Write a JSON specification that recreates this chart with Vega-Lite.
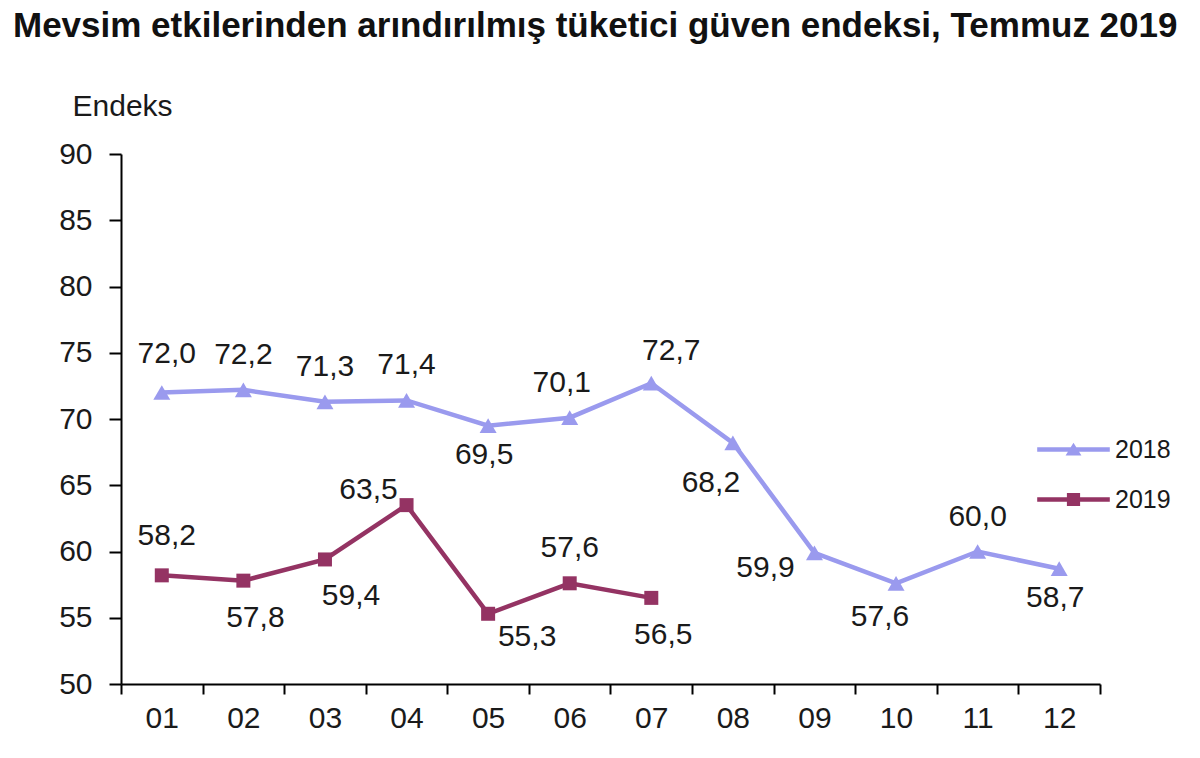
{
  "$schema": "https://vega.github.io/schema/vega-lite/v6.json",
  "width": 979,
  "height": 530,
  "autosize": {"type": "none"},
  "padding": {"left": 121, "top": 154, "right": 100, "bottom": 74},
  "background": "white",
  "title": {
    "text": "Mevsim etkilerinden arındırılmış tüketici güven endeksi, Temmuz 2019",
    "anchor": "start",
    "frame": "group",
    "dx": -108,
    "offset": 19,
    "baseline": "alphabetic",
    "font": "Liberation Sans",
    "fontSize": 35,
    "fontWeight": "bold",
    "color": "#111111"
  },
  "config": {
    "view": {"stroke": null},
    "font": "Liberation Sans",
    "locale": {
      "number": {"decimal": ",", "thousands": ".", "grouping": [3], "currency": ["", ""]}
    },
    "axis": {
      "labelFont": "Liberation Sans",
      "labelFontSize": 30,
      "labelColor": "#1a1a1a",
      "domainColor": "#000000",
      "domainWidth": 2,
      "tickColor": "#000000",
      "tickWidth": 2,
      "grid": false
    },
    "text": {"font": "Liberation Sans", "fontSize": 30, "color": "#1a1a1a", "baseline": "middle", "align": "center"}
  },
  "data": {
    "values": [
      {"month": "01", "series": "2018", "value": 72.0},
      {"month": "02", "series": "2018", "value": 72.2},
      {"month": "03", "series": "2018", "value": 71.3},
      {"month": "04", "series": "2018", "value": 71.4},
      {"month": "05", "series": "2018", "value": 69.5},
      {"month": "06", "series": "2018", "value": 70.1},
      {"month": "07", "series": "2018", "value": 72.7},
      {"month": "08", "series": "2018", "value": 68.2},
      {"month": "09", "series": "2018", "value": 59.9},
      {"month": "10", "series": "2018", "value": 57.6},
      {"month": "11", "series": "2018", "value": 60.0},
      {"month": "12", "series": "2018", "value": 58.7},
      {"month": "01", "series": "2019", "value": 58.2},
      {"month": "02", "series": "2019", "value": 57.8},
      {"month": "03", "series": "2019", "value": 59.4},
      {"month": "04", "series": "2019", "value": 63.5},
      {"month": "05", "series": "2019", "value": 55.3},
      {"month": "06", "series": "2019", "value": 57.6},
      {"month": "07", "series": "2019", "value": 56.5}
    ]
  },
  "encoding": {
    "x": {
      "field": "month",
      "type": "ordinal",
      "bandPosition": 0.5,
      "scale": {"type": "band", "paddingInner": 0, "paddingOuter": 0},
      "axis": {
        "title": null,
        "labelAngle": 0,
        "labelPadding": 9,
        "tickSize": 10,
        "tickBand": "extent"
      }
    },
    "y": {
      "field": "value",
      "type": "quantitative",
      "scale": {"domain": [50, 90], "nice": false, "zero": false},
      "axis": {
        "values": [50, 55, 60, 65, 70, 75, 80, 85, 90],
        "format": "d",
        "tickSize": 12,
        "labelPadding": 17,
        "title": "Endeks",
        "titleAngle": 0,
        "titleAlign": "left",
        "titleBaseline": "middle",
        "titleX": -49,
        "titleY": -48,
        "titleFont": "Liberation Sans",
        "titleFontSize": 30,
        "titleFontWeight": "normal",
        "titleColor": "#1a1a1a"
      }
    }
  },
  "layer": [
    {
      "mark": {"type": "line", "strokeWidth": 4.5},
      "encoding": {
        "color": {
          "field": "series",
          "type": "nominal",
          "scale": {"domain": ["2018", "2019"], "range": ["#9a9aee", "#943363"]},
          "legend": {
            "title": null,
            "orient": "none",
            "legendX": 940,
            "legendY": 283,
            "padding": 0,
            "symbolSize": 484,
            "symbolStrokeWidth": 0,
            "labelOffset": 29,
            "rowPadding": 24,
            "labelFont": "Liberation Sans",
            "labelFontSize": 25,
            "labelColor": "#1a1a1a",
            "encode": {
              "symbols": {
                "update": {
                  "shape": {"signal": "datum.value === '2018' ? 'M-3.3,-0.2H3.3V0.2H-3.3Z M0,-0.62L0.72,0.55H-0.72Z' : 'M-3.3,-0.2H3.3V0.2H-3.3Z M-0.6,-0.6H0.6V0.6H-0.6Z'"},
                  "fill": {"signal": "datum.value === '2018' ? '#9a9aee' : '#943363'"},
                  "stroke": {"value": "transparent"},
                  "opacity": {"value": 1}
                }
              }
            }
          }
        }
      }
    },
    {
      "transform": [{"filter": "datum.series === '2018'"}],
      "mark": {"type": "point", "shape": "triangle-up", "size": 289, "filled": true, "opacity": 1},
      "encoding": {
        "color": {"field": "series", "type": "nominal", "legend": null}
      }
    },
    {
      "transform": [{"filter": "datum.series === '2019'"}],
      "mark": {"type": "point", "shape": "square", "size": 196, "filled": true, "opacity": 1},
      "encoding": {
        "color": {"field": "series", "type": "nominal", "legend": null}
      }
    },
    {
      "transform": [{"filter": "indexof(['2018-02','2018-03','2018-04','2018-11','2019-06'], datum.series + '-' + datum.month) >= 0"}],
      "mark": {"type": "text", "dx": 0, "dy": -35},
      "encoding": {"text": {"field": "value", "type": "quantitative", "format": ".1f"}}
    },
    {
      "transform": [{"filter": "indexof(['2018-06'], datum.series + '-' + datum.month) >= 0"}],
      "mark": {"type": "text", "dx": -8, "dy": -35},
      "encoding": {"text": {"field": "value", "type": "quantitative", "format": ".1f"}}
    },
    {
      "transform": [{"filter": "indexof(['2018-01','2019-01'], datum.series + '-' + datum.month) >= 0"}],
      "mark": {"type": "text", "dx": 5, "dy": -39},
      "encoding": {"text": {"field": "value", "type": "quantitative", "format": ".1f"}}
    },
    {
      "transform": [{"filter": "indexof(['2018-07'], datum.series + '-' + datum.month) >= 0"}],
      "mark": {"type": "text", "dx": 20, "dy": -32},
      "encoding": {"text": {"field": "value", "type": "quantitative", "format": ".1f"}}
    },
    {
      "transform": [{"filter": "indexof(['2018-05','2018-12'], datum.series + '-' + datum.month) >= 0"}],
      "mark": {"type": "text", "dx": -4, "dy": 29},
      "encoding": {"text": {"field": "value", "type": "quantitative", "format": ".1f"}}
    },
    {
      "transform": [{"filter": "indexof(['2019-02','2019-07'], datum.series + '-' + datum.month) >= 0"}],
      "mark": {"type": "text", "dx": 12, "dy": 37},
      "encoding": {"text": {"field": "value", "type": "quantitative", "format": ".1f"}}
    },
    {
      "transform": [{"filter": "indexof(['2018-10'], datum.series + '-' + datum.month) >= 0"}],
      "mark": {"type": "text", "dx": -16, "dy": 34},
      "encoding": {"text": {"field": "value", "type": "quantitative", "format": ".1f"}}
    },
    {
      "transform": [{"filter": "indexof(['2019-03'], datum.series + '-' + datum.month) >= 0"}],
      "mark": {"type": "text", "dx": 26, "dy": 37},
      "encoding": {"text": {"field": "value", "type": "quantitative", "format": ".1f"}}
    },
    {
      "transform": [{"filter": "indexof(['2019-04'], datum.series + '-' + datum.month) >= 0"}],
      "mark": {"type": "text", "dx": -38, "dy": -15},
      "encoding": {"text": {"field": "value", "type": "quantitative", "format": ".1f"}}
    },
    {
      "transform": [{"filter": "indexof(['2019-05'], datum.series + '-' + datum.month) >= 0"}],
      "mark": {"type": "text", "dx": 39, "dy": 23},
      "encoding": {"text": {"field": "value", "type": "quantitative", "format": ".1f"}}
    },
    {
      "transform": [{"filter": "indexof(['2018-08'], datum.series + '-' + datum.month) >= 0"}],
      "mark": {"type": "text", "dx": -22, "dy": 40},
      "encoding": {"text": {"field": "value", "type": "quantitative", "format": ".1f"}}
    },
    {
      "transform": [{"filter": "indexof(['2018-09'], datum.series + '-' + datum.month) >= 0"}],
      "mark": {"type": "text", "dx": -49, "dy": 15},
      "encoding": {"text": {"field": "value", "type": "quantitative", "format": ".1f"}}
    }
  ]
}
